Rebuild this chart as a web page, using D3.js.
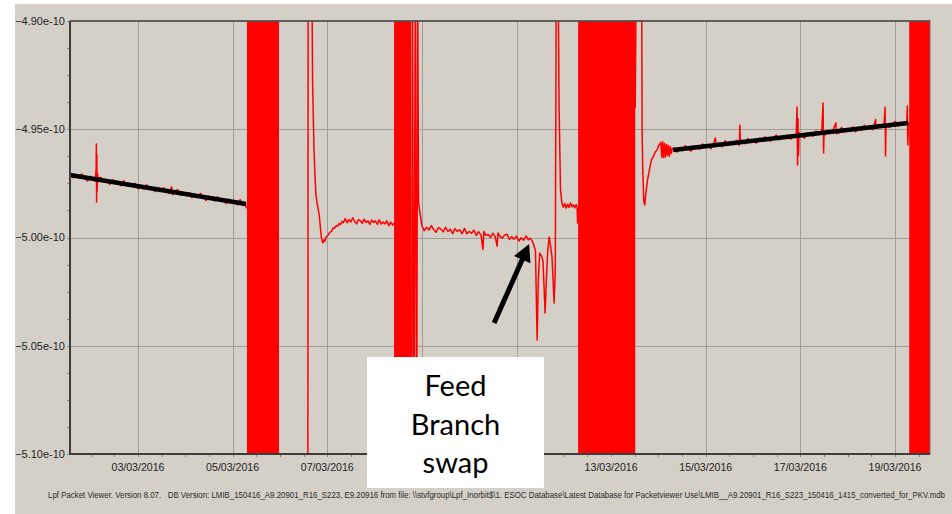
<!DOCTYPE html>
<html>
<head>
<meta charset="utf-8">
<script src="https://cdn.jsdelivr.net/npm/d3@7"></script>
<style>
  html, body { margin: 0; padding: 0; background: #ffffff; }
  svg { display: block; }
</style>
</head>
<body>
<svg id="chart" width="952" height="514"></svg>
<script>
// Telemetry trace. Times are fractional days of March 2016 (UTC),
// values are given in units of 1e-10.
const UNIT = 1e-10;
const timeWindow = ["2016-03-01T13:30:00Z", "2016-03-19T17:45:00Z"];
const valueRange = [-5.10, -4.90];
const dateTickLabels = ["03/03/2016", "05/03/2016", "07/03/2016", "09/03/2016", "11/03/2016",
                        "13/03/2016", "15/03/2016", "17/03/2016", "19/03/2016"];
const valueTicks = [-4.90, -4.95, -5.00, -5.05, -5.10];

// Intervals where the parameter toggles so fast that the trace fills the plot
const saturated = [[5.304, 5.981], [8.412, 8.772], [12.302, 13.51], [19.30, 19.75]];

const segment1 = [
  [1.562,-4.9702],[1.63,-4.9725],[1.69,-4.9712],[1.75,-4.9725],[1.81,-4.9706],[1.87,-4.9725],
  [1.93,-4.9739],[1.99,-4.9718],[2.05,-4.9727],[2.09,-4.9740],[2.10,-4.9726],[2.115,-4.9680],
  [2.12,-4.9568],[2.125,-4.9836],[2.13,-4.9620],[2.135,-4.9790],[2.145,-4.9705],[2.16,-4.9742],
  [2.19,-4.9724],[2.22,-4.9723],[2.28,-4.9743],[2.34,-4.9734],[2.40,-4.9755],[2.46,-4.9733],
  [2.52,-4.9748],[2.58,-4.9741],[2.64,-4.9761],[2.70,-4.9737],[2.76,-4.9762],[2.82,-4.9753],
  [2.88,-4.9763],[2.94,-4.9750],[3.00,-4.9776],[3.06,-4.9759],[3.12,-4.9776],[3.18,-4.9756],
  [3.24,-4.9775],[3.30,-4.9773],[3.36,-4.9788],[3.42,-4.9769],[3.48,-4.9787],[3.54,-4.9770],
  [3.60,-4.9787],[3.66,-4.9796],[3.71,-4.9766],[3.73,-4.9803],[3.78,-4.9785],[3.84,-4.9779],
  [3.90,-4.9804],[3.96,-4.9793],[4.02,-4.9805],[4.08,-4.9793],[4.14,-4.9816],[4.20,-4.9802],
  [4.26,-4.9815],[4.32,-4.9796],[4.38,-4.9815],[4.44,-4.9829],[4.50,-4.9809],[4.56,-4.9817],
  [4.62,-4.9831],[4.68,-4.9811],[4.74,-4.9831],[4.80,-4.9822],[4.86,-4.9844],[4.92,-4.9822],
  [4.98,-4.9836],[5.04,-4.9829],[5.10,-4.9849],[5.16,-4.9825],[5.22,-4.9851],[5.27,-4.9841],
  [5.29,-4.9865]
];

const segment2 = [
  [6.590,-5.12],[6.596,-4.88],[6.675,-4.88],[6.69,-4.9282],[6.72,-4.9596],[6.74,-4.9711],
  [6.76,-4.9804],[6.80,-4.9859],[6.83,-4.9896],[6.87,-4.9988],[6.89,-5.0016],[6.91,-5.0025],
  [6.93,-5.0010],[6.95,-5.0018],[6.97,-5.0000],[7.00,-4.9993],[7.03,-4.9985],[7.06,-4.9975],
  [7.09,-4.9972],[7.12,-4.9956],[7.15,-4.9958],[7.19,-4.9945],[7.22,-4.9948],[7.25,-4.9936],
  [7.28,-4.9940],[7.31,-4.9926],[7.34,-4.9932],[7.38,-4.9912],[7.42,-4.9932],[7.46,-4.9917],
  [7.50,-4.9928],[7.54,-4.9909],[7.58,-4.9926],[7.62,-4.9937],[7.66,-4.9917],[7.70,-4.9923],
  [7.74,-4.9934],[7.78,-4.9915],[7.82,-4.9931],[7.86,-4.9923],[7.90,-4.9940],[7.94,-4.9919],
  [7.98,-4.9931],[8.02,-4.9923],[8.06,-4.9940],[8.10,-4.9918],[8.14,-4.9938],[8.18,-4.9929],
  [8.22,-4.9937],[8.26,-4.9923],[8.30,-4.9946],[8.34,-4.9929],[8.38,-4.9943],[8.412,-4.9932]
];

const segment3 = [
  [8.78,-5.12],[8.80,-4.88],[8.83,-5.12],[8.86,-4.88],[8.89,-5.12],[8.91,-4.88],
  [8.93,-4.9842],[8.95,-4.9870],[8.97,-4.9900],[9.00,-4.9946],[9.05,-4.9968],[9.10,-4.9953],
  [9.15,-4.9965],[9.20,-4.9945],[9.25,-4.9963],[9.30,-4.9976],[9.35,-4.9954],[9.40,-4.9961],
  [9.45,-4.9974],[9.50,-4.9953],[9.55,-4.9972],[9.60,-4.9962],[9.65,-4.9982],[9.70,-4.9959],
  [9.75,-4.9972],[9.80,-4.9964],[9.85,-4.9983],[9.90,-4.9958],[9.95,-4.9982],[10.00,-4.9972],
  [10.05,-4.9981],[10.10,-4.9966],[10.15,-4.9991],[10.20,-4.9973],[10.25,-4.9989],[10.29,-5.0055],
  [10.31,-4.9972],[10.35,-4.9990],[10.40,-4.9986],[10.45,-5.0000],[10.50,-4.9980],[10.55,-4.9997],
  [10.59,-5.0040],[10.61,-4.9979],[10.65,-4.9995],[10.70,-5.0003],[10.75,-4.9988],[10.80,-4.9985],
  [10.85,-5.0009],[10.90,-4.9997],[10.95,-5.0008],[11.00,-4.9994],[11.05,-5.0016],[11.10,-5.0001],
  [11.15,-5.0013],[11.20,-4.9993],[11.25,-5.0011],[11.28,-5.0003],[11.32,-5.0012],[11.35,-5.0025],
  [11.40,-5.0060],[11.436,-5.0473],[11.46,-5.0200],[11.49,-5.0072],[11.53,-5.0085],[11.56,-5.0110],
  [11.605,-5.0349],[11.63,-5.0200],[11.66,-5.0060],[11.69,-4.9998],[11.72,-5.0040],[11.75,-5.0090],
  [11.795,-5.0303],[11.82,-5.0150],[11.84,-4.88],[11.88,-4.88],[11.90,-4.9400],[11.93,-4.9780],
  [11.96,-4.9842],[11.99,-4.9860],[12.02,-4.9843],[12.05,-4.9864],[12.08,-4.9846],[12.11,-4.9861],
  [12.14,-4.9840],[12.17,-4.9858],[12.20,-4.9849],[12.23,-4.9863],[12.26,-4.9848],[12.28,-4.9856],
  [12.29,-4.9933],[12.302,-4.9860]
];

const segment4 = [
  [13.51,-4.9402],[13.53,-4.88],[13.645,-4.88],[13.655,-4.9520],[13.67,-4.9700],[13.69,-4.9832],
  [13.71,-4.9850],[13.73,-4.9804],[13.77,-4.9734],[13.81,-4.9688],[13.85,-4.9642],[13.89,-4.9628],
  [13.93,-4.9605],[13.97,-4.9596],[14.01,-4.9573],[14.04,-4.9564],[14.05,-4.9560],[14.07,-4.9630],
  [14.09,-4.9558],[14.11,-4.9632],[14.13,-4.9565],[14.15,-4.9628],[14.17,-4.9570],[14.19,-4.9620],
  [14.21,-4.9575],[14.23,-4.9625],[14.25,-4.9580],[14.27,-4.9612],[14.29,-4.9590],
  [14.33,-4.9586],[14.39,-4.9606],[14.45,-4.9589],[14.51,-4.9598],[14.57,-4.9576],[14.63,-4.9591],
  [14.69,-4.9601],[14.75,-4.9577],[14.81,-4.9581],[14.87,-4.9592],[14.93,-4.9568],[14.99,-4.9585],
  [15.05,-4.9572],[15.11,-4.9590],[15.17,-4.9564],[15.20,-4.9540],[15.23,-4.9575],[15.29,-4.9564],
  [15.35,-4.9581],[15.41,-4.9553],[15.47,-4.9575],[15.53,-4.9562],[15.59,-4.9569],[15.65,-4.9551],
  [15.71,-4.9574],[15.72,-4.9480],[15.73,-4.9552],[15.74,-4.9548],[15.77,-4.9553],[15.83,-4.9567],
  [15.89,-4.9543],[15.95,-4.9559],[16.01,-4.9552],[16.07,-4.9564],[16.13,-4.9541],[16.19,-4.9556],
  [16.25,-4.9535],[16.31,-4.9549],[16.37,-4.9554],[16.43,-4.9537],[16.49,-4.9527],[16.55,-4.9549],
  [16.61,-4.9534],[16.67,-4.9543],[16.73,-4.9526],[16.79,-4.9546],[16.85,-4.9528],[16.91,-4.9538],
  [16.93,-4.9397],[16.94,-4.9665],[16.95,-4.9450],[16.96,-4.9620],[16.97,-4.9515],[17.03,-4.9531],
  [17.09,-4.9541],[17.15,-4.9517],[17.21,-4.9521],[17.27,-4.9532],[17.33,-4.9508],[17.39,-4.9524],
  [17.45,-4.9512],[17.48,-4.9379],[17.49,-4.9610],[17.50,-4.9520],[17.51,-4.9529],[17.57,-4.9504],
  [17.63,-4.9514],[17.69,-4.9504],[17.75,-4.9470],[17.76,-4.9520],[17.81,-4.9519],[17.87,-4.9491],
  [17.93,-4.9513],[17.99,-4.9500],[18.05,-4.9507],[18.11,-4.9489],[18.17,-4.9512],[18.23,-4.9491],
  [18.29,-4.9505],[18.35,-4.9481],[18.41,-4.9497],[18.47,-4.9490],[18.53,-4.9502],[18.59,-4.9455],
  [18.60,-4.9495],[18.65,-4.9478],[18.71,-4.9492],[18.77,-4.9472],[18.79,-4.9397],[18.80,-4.9624],
  [18.81,-4.9480],[18.83,-4.9485],[18.89,-4.9491],[18.95,-4.9473],[19.01,-4.9464],[19.07,-4.9485],
  [19.13,-4.9470],[19.19,-4.9479],[19.25,-4.9462],[19.26,-4.9393],[19.27,-4.9573],[19.29,-4.9468],
  [19.30,-4.9475]
];

// Linear trends fitted before and after the gap
const trendBefore = [[1.5625,-4.9711],[5.283,-4.9845]];
const trendAfter  = [[14.311,-4.9596],[19.279,-4.9471]];

// Arrow pointing at the event (tail, tip)
const eventArrow = [[10.526,-5.0395],[11.266,-5.0030]];
const calloutLines = ["Feed", "Branch", "swap"];

const footerText = "Lpf Packet Viewer. Version 8.07.   DB Version: LMIB_150416_A9.20901_R16_S223, E9.20916 from file: \\\\stvfgroup\\Lpf_Inorbit$\\1. ESOC Database\\Latest Database for Packetviewer Use\\LMIB__A9.20901_R16_S223_150416_1415_converted_for_PKV.mdb";

// ---------------------------------------------------------------------------
const W = 952, H = 514;
const plot = { left: 70, top: 21, right: 930, bottom: 454 };
const COLORS = { panel: "#d4d0c8", grid: "#a09d98", axis: "#3c3c3c", trace: "#ff0000", text: "#1e1e1e" };

const toDate = d => new Date(Date.UTC(2016, 2, 1) + (d - 1) * 864e5);
const parseLabel = d3.utcParse("%d/%m/%Y");
const fmtLabel = d3.utcFormat("%d/%m/%Y");

const x = d3.scaleUtc()
  .domain(timeWindow.map(s => new Date(s)))
  .range([plot.left, plot.right]);
const y = d3.scaleLinear()
  .domain(valueRange.map(v => v * UNIT))
  .range([plot.bottom, plot.top]);

const svg = d3.select("#chart");

// Window panel
svg.append("rect").attr("x", 15).attr("y", 4).attr("width", W - 15).attr("height", H - 4)
  .attr("fill", COLORS.panel);

svg.append("clipPath").attr("id", "plot-clip")
  .append("rect")
  .attr("x", plot.left).attr("y", plot.top)
  .attr("width", plot.right - plot.left).attr("height", plot.bottom - plot.top);

// Grid
const dateTicks = dateTickLabels.map(parseLabel);
const grid = svg.append("g").attr("stroke", COLORS.grid).attr("stroke-width", 1);
grid.selectAll("line.v").data(dateTicks).join("line")
  .attr("x1", d => Math.round(x(d)) + 0.5).attr("x2", d => Math.round(x(d)) + 0.5)
  .attr("y1", plot.top).attr("y2", plot.bottom);
grid.selectAll("line.h").data(valueTicks.slice(1, -1)).join("line")
  .attr("y1", d => Math.round(y(d * UNIT)) + 0.5).attr("y2", d => Math.round(y(d * UNIT)) + 0.5)
  .attr("x1", plot.left).attr("x2", plot.right);

// Minor ticks
const minorX = d3.utcHour.every(12).range(x.domain()[0], x.domain()[1]);
svg.append("g").attr("stroke", "#8a8782").selectAll("line").data(minorX).join("line")
  .attr("x1", d => Math.round(x(d)) + 0.5).attr("x2", d => Math.round(x(d)) + 0.5)
  .attr("y1", plot.bottom).attr("y2", plot.bottom + 3);
const minorY = d3.range(0, 17).map(i => (valueRange[0] + i * 0.0125) * UNIT);
svg.append("g").attr("stroke", "#8a8782").selectAll("line").data(minorY).join("line")
  .attr("y1", d => Math.round(y(d)) + 0.5).attr("y2", d => Math.round(y(d)) + 0.5)
  .attr("x1", plot.left - 3).attr("x2", plot.left);

// Data
const body = svg.append("g").attr("clip-path", "url(#plot-clip)");

body.selectAll("rect.sat").data(saturated).join("rect")
  .attr("x", d => x(toDate(d[0])))
  .attr("width", d => x(toDate(d[1])) - x(toDate(d[0])))
  .attr("y", plot.top).attr("height", plot.bottom - plot.top)
  .attr("fill", COLORS.trace);

const line = d3.line()
  .x(d => x(toDate(d[0])))
  .y(d => y(d[1] * UNIT));

body.selectAll("path.trace").data([segment1, segment2, segment3, segment4]).join("path")
  .attr("d", line)
  .attr("fill", "none")
  .attr("stroke", COLORS.trace)
  .attr("stroke-width", 1.5)
  .attr("stroke-linejoin", "round");

body.selectAll("path.fit").data([trendBefore, trendAfter]).join("path")
  .attr("d", line)
  .attr("fill", "none")
  .attr("stroke", "#000")
  .attr("stroke-width", 4.5);

// Frame and axes
svg.append("rect")
  .attr("x", plot.left).attr("y", plot.top)
  .attr("width", plot.right - plot.left).attr("height", plot.bottom - plot.top)
  .attr("fill", "none").attr("stroke", "#6e6c68").attr("stroke-width", 1);
svg.append("line").attr("x1", plot.left).attr("x2", plot.right)
  .attr("y1", plot.top).attr("y2", plot.top)
  .attr("stroke", "#4a4a4a").attr("stroke-width", 1.5);
svg.append("path")
  .attr("d", `M${plot.left},${plot.top}V${plot.bottom}H${plot.right}`)
  .attr("fill", "none").attr("stroke", COLORS.axis).attr("stroke-width", 2);

const tickFont = "'Liberation Sans', Arial, sans-serif";
const fmtValue = d3.format(".2e");
svg.append("g").selectAll("text").data(valueTicks).join("text")
  .attr("x", plot.left - 5)
  .attr("y", d => y(d * UNIT))
  .attr("dy", "0.35em")
  .attr("text-anchor", "end")
  .attr("font-family", tickFont).attr("font-size", 11)
  .attr("fill", COLORS.text)
  .text(d => fmtValue(d * UNIT));

svg.append("g").selectAll("text").data(dateTicks).join("text")
  .attr("x", d => x(d))
  .attr("y", 471)
  .attr("text-anchor", "middle")
  .attr("font-family", tickFont).attr("font-size", 10.6)
  .attr("fill", COLORS.text)
  .text(d => fmtLabel(d));

// Footer
svg.append("text")
  .attr("x", 48).attr("y", 498)
  .attr("font-family", tickFont).attr("font-size", 8.4)
  .attr("fill", "#2a2a2a")
  .attr("textLength", 897).attr("lengthAdjust", "spacingAndGlyphs")
  .style("white-space", "pre")
  .text(footerText);

// Event arrow
const [tail, tip] = eventArrow.map(d => [x(toDate(d[0])), y(d[1] * UNIT)]);
const len = Math.hypot(tip[0] - tail[0], tip[1] - tail[1]);
const ux = (tip[0] - tail[0]) / len, uy = (tip[1] - tail[1]) / len;
const headLen = 17, headHalf = 9;
const base = [tip[0] - ux * headLen, tip[1] - uy * headLen];
svg.append("line")
  .attr("x1", tail[0]).attr("y1", tail[1])
  .attr("x2", base[0] + ux * 2).attr("y2", base[1] + uy * 2)
  .attr("stroke", "#000").attr("stroke-width", 5);
svg.append("path")
  .attr("d", `M${tip[0]},${tip[1]}L${base[0] - uy * headHalf},${base[1] + ux * headHalf}L${base[0] + uy * headHalf},${base[1] - ux * headHalf}Z`)
  .attr("fill", "#000");

// Callout box
const callout = svg.append("g");
callout.append("rect")
  .attr("x", 367).attr("y", 357).attr("width", 177).attr("height", 131)
  .attr("fill", "#fff");
callout.selectAll("text").data(calloutLines).join("text")
  .attr("x", 455.5)
  .attr("y", (d, i) => 396 + i * 38.5)
  .attr("text-anchor", "middle")
  .attr("font-family", "Lato, 'Open Sans', sans-serif")
  .attr("font-size", 29)
  .attr("fill", "#000")
  .text(d => d);
</script>
</body>
</html>
